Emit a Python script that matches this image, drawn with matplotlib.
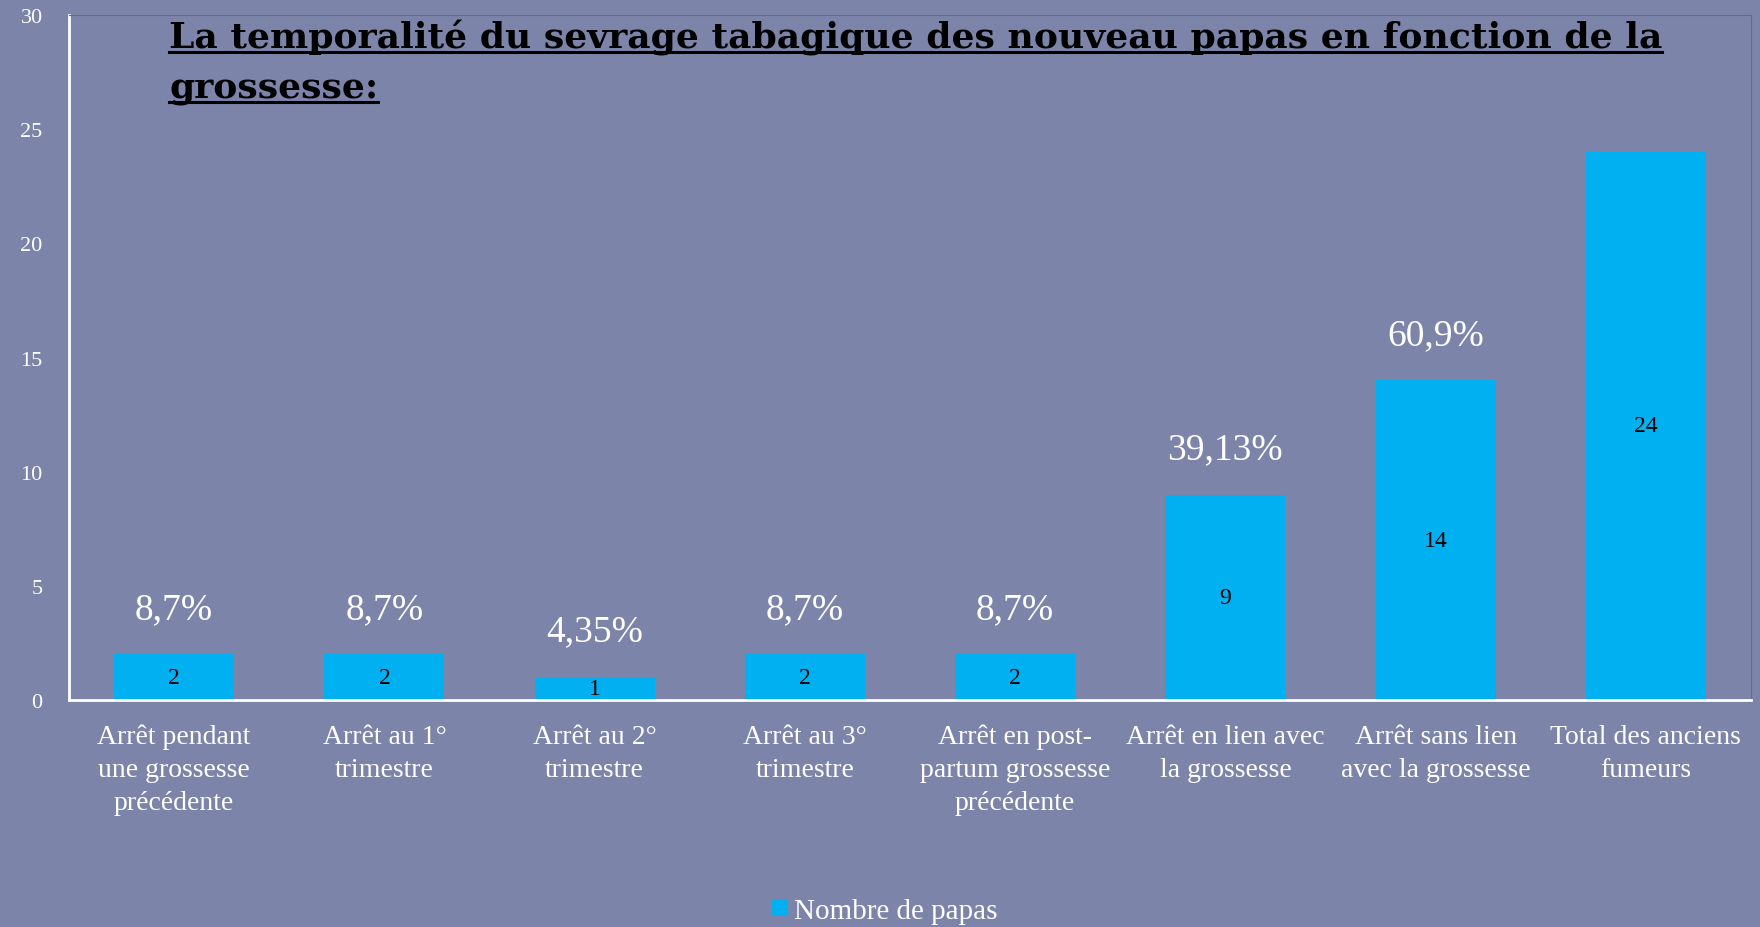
import matplotlib
matplotlib.use('Agg')
import matplotlib.pyplot as plt
from matplotlib.lines import Line2D

categories = [
    'Arrêt pendant\nune grossesse\nprécédente',
    'Arrêt au 1°\ntrimestre',
    'Arrêt au 2°\ntrimestre',
    'Arrêt au 3°\ntrimestre',
    'Arrêt en post-\npartum grossesse\nprécédente',
    'Arrêt en lien avec\nla grossesse',
    'Arrêt sans lien\navec la grossesse',
    'Total des anciens\nfumeurs',
]
papas = [2, 2, 1, 2, 2, 9, 14, 24]
percents = ['8,7%', '8,7%', '4,35%', '8,7%', '8,7%', '39,13%', '60,9%', '']
title_lines = ['La temporalité du sevrage tabagique des nouveau papas en fonction de la',
               'grossesse:']

bg = '#7c84a9'
bar_color = '#00b0f0'
serif = ['Liberation Serif', 'DejaVu Serif']
plt.rcParams['font.family'] = serif

fig = plt.figure(figsize=(17.6, 9.28), dpi=100, facecolor=bg)
ax = fig.add_axes([69 / 1760, 1 - 701 / 928, 1682 / 1760, 685 / 928])
ax.set_facecolor(bg)

x = range(len(categories))
bars = ax.bar(x, papas, width=0.57, color=bar_color, label='Nombre de papas', zorder=2)
ax.bar_label(bars, labels=[str(v) for v in papas], label_type='center',
             color='black', fontsize=17)

for xi, v, p in zip(x, papas, percents):
    if p:
        ax.annotate(p, (xi, v), xytext=(0, 33), textcoords='offset points',
                    ha='center', va='center', color='white', fontsize=27)

ax.set_xlim(-0.5, len(categories) - 0.5)
ax.set_ylim(0, 30)
ax.set_yticks(range(0, 31, 5))
ax.set_xticks(list(x))
ax.set_xticklabels(categories, color='white', fontsize=20, linespacing=1.42)
ax.tick_params(axis='x', length=0, pad=17)
ax.tick_params(axis='y', length=0, pad=19, labelcolor='white', labelsize=16)

for side in ('left', 'bottom'):
    ax.spines[side].set_color('white')
    ax.spines[side].set_linewidth(2)
for side in ('top', 'right'):
    ax.spines[side].set_color('#646b90')
    ax.spines[side].set_linewidth(0.8)

leg = fig.legend(handles=[bars], labels=['Nombre de papas'], loc='center',
                 bbox_to_anchor=(885 / 1760, 1 - 912 / 928), frameon=False,
                 fontsize=21, handlelength=0.55, handleheight=0.55, handletextpad=0.2)
for t in leg.get_texts():
    t.set_color('white')

# title, two lines, bold and underlined
baselines = [49, 99]
texts = []
for line, yb in zip(title_lines, baselines):
    t = fig.text(169 / 1760, 1 - yb / 928, line, ha='left', va='baseline',
                 fontsize=26, fontweight='bold', color='black', family='DejaVu Serif')
    texts.append((t, yb))

fig.canvas.draw()
renderer = fig.canvas.get_renderer()
for t, yb in texts:
    bb = t.get_window_extent(renderer)
    yu = 1 - (yb + 4) / 928
    fig.add_artist(Line2D([bb.x0 / 1760, bb.x1 / 1760], [yu, yu],
                          color='black', linewidth=2.2, transform=fig.transFigure))

fig.savefig('out.png', dpi=100, facecolor=bg)
